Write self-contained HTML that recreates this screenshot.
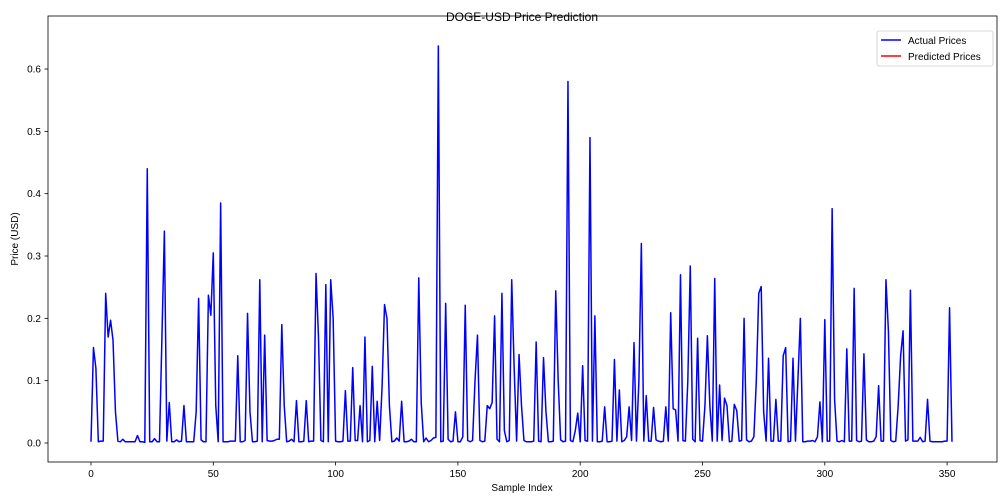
<!DOCTYPE html>
<html><head><meta charset="utf-8"><style>
html,body{margin:0;padding:0;background:#fff;}
svg{display:block;font-family:"Liberation Sans","DejaVu Sans",sans-serif;}
</style></head><body>
<svg id="chart" width="1008" height="504" viewBox="0 0 1008 504" xmlns="http://www.w3.org/2000/svg">
<rect x="0" y="0" width="1008" height="504" fill="#fff"/>
<text x="522" y="21" text-anchor="middle" font-size="12" fill="#000">DOGE-USD Price Prediction</text>
<text x="522" y="491" text-anchor="middle" font-size="10" fill="#000">Sample Index</text>
<text x="18" y="239" text-anchor="middle" font-size="10" fill="#000" transform="rotate(-90 18 239)">Price (USD)</text>
<g id="ticks"></g>
<g id="series"></g>
<rect x="48" y="16" width="949" height="446" fill="none" stroke="#000" stroke-width="0.8"/>
<g>
<rect x="877" y="31" width="116" height="35" rx="2" fill="#fff" stroke="#ccc" stroke-width="0.8"/>
<line x1="881" y1="40" x2="901" y2="40" stroke="#0000ff" stroke-width="1.5"/>
<text x="908" y="44" font-size="10" fill="#000">Actual Prices</text>
<line x1="881" y1="56" x2="901" y2="56" stroke="#ff0000" stroke-width="1.5"/>
<text x="908" y="60" font-size="10" fill="#000">Predicted Prices</text>
</g>
</svg>
<script>
const xTicks = [0, 50, 100, 150, 200, 250, 300, 350];
const yTicks = [0.0, 0.1, 0.2, 0.3, 0.4, 0.5, 0.6];
const actualPrices = [
0.002,0.153,0.12,0.002,0.003,0.003,0.24,0.17,0.197,0.165,0.05,0.003,0.002,0.006,0.002,0.002,0.002,0.002,0.002,0.012,
0.002,0.002,0.001,0.44,0.002,0.002,0.007,0.002,0.002,0.17,0.34,0.003,0.065,0.002,0.002,0.005,0.002,0.003,0.06,0.002,
0.002,0.002,0.002,0.05,0.232,0.005,0.002,0.002,0.237,0.205,0.305,0.06,0.002,0.385,0.002,0.002,0.002,0.003,0.003,0.003,
0.14,0.002,0.002,0.004,0.208,0.05,0.002,0.002,0.003,0.262,0.002,0.173,0.004,0.003,0.003,0.004,0.006,0.006,0.19,0.06,
0.002,0.003,0.006,0.002,0.068,0.002,0.002,0.003,0.068,0.002,0.003,0.003,0.272,0.17,0.004,0.002,0.254,0.002,0.262,0.2,
0.003,0.002,0.002,0.003,0.084,0.003,0.003,0.121,0.004,0.004,0.06,0.002,0.17,0.002,0.004,0.123,0.002,0.067,0.004,0.09,
0.222,0.2,0.06,0.002,0.003,0.008,0.003,0.067,0.002,0.002,0.003,0.006,0.002,0.002,0.265,0.065,0.002,0.008,0.002,0.004,
0.008,0.009,0.637,0.002,0.003,0.224,0.006,0.002,0.003,0.05,0.002,0.002,0.01,0.221,0.004,0.002,0.004,0.1,0.173,0.004,
0.002,0.003,0.06,0.055,0.065,0.204,0.006,0.002,0.24,0.02,0.002,0.004,0.262,0.12,0.003,0.142,0.06,0.004,0.002,0.002,
0.002,0.003,0.162,0.003,0.002,0.137,0.05,0.002,0.002,0.003,0.244,0.1,0.005,0.002,0.003,0.58,0.004,0.002,0.02,0.048,
0.002,0.124,0.004,0.003,0.49,0.003,0.204,0.002,0.002,0.003,0.058,0.002,0.002,0.003,0.134,0.003,0.085,0.002,0.004,0.01,
0.058,0.004,0.161,0.003,0.1,0.32,0.003,0.076,0.003,0.003,0.057,0.005,0.003,0.002,0.003,0.058,0.003,0.209,0.055,0.053,
0.003,0.27,0.004,0.003,0.1,0.284,0.006,0.002,0.168,0.004,0.003,0.06,0.172,0.06,0.003,0.264,0.003,0.093,0.004,0.072,
0.06,0.002,0.003,0.062,0.052,0.003,0.004,0.2,0.005,0.002,0.003,0.01,0.1,0.24,0.251,0.05,0.003,0.136,0.003,0.003,
0.07,0.003,0.003,0.14,0.153,0.002,0.003,0.136,0.003,0.1,0.2,0.002,0.002,0.003,0.003,0.004,0.002,0.01,0.066,0.002,
0.198,0.003,0.003,0.376,0.07,0.003,0.002,0.004,0.002,0.151,0.003,0.003,0.248,0.004,0.002,0.003,0.143,0.005,0.002,0.002,
0.003,0.01,0.092,0.003,0.003,0.262,0.18,0.004,0.002,0.003,0.06,0.14,0.18,0.003,0.005,0.245,0.003,0.003,0.003,0.009,
0.002,0.003,0.07,0.003,0.002,0.002,0.002,0.002,0.002,0.003,0.003,0.217,0.002
];
const predictedPrices = [];

const NS = "http://www.w3.org/2000/svg";
function xScale(v){ return 91 + v * 2.446; }
function yScale(v){ return 443 - v * 623.3; }

const tg = document.getElementById('ticks');
xTicks.forEach(function(t){
  const x = xScale(t);
  const l = document.createElementNS(NS,'line');
  l.setAttribute('x1',x); l.setAttribute('x2',x); l.setAttribute('y1',462); l.setAttribute('y2',465.5);
  l.setAttribute('stroke','#000'); l.setAttribute('stroke-width','0.8');
  
  
  tg.appendChild(l);
  const tx = document.createElementNS(NS,'text');
  tx.setAttribute('x',x); tx.setAttribute('y',477); tx.setAttribute('text-anchor','middle');
  tx.setAttribute('font-size','10'); tx.textContent = t;
  
  
  tg.appendChild(tx);
});
yTicks.forEach(function(t){
  const y = yScale(t);
  const l = document.createElementNS(NS,'line');
  l.setAttribute('x1',44.5); l.setAttribute('x2',48); l.setAttribute('y1',y); l.setAttribute('y2',y);
  l.setAttribute('stroke','#000'); l.setAttribute('stroke-width','0.8');
  
  
  tg.appendChild(l);
  const tx = document.createElementNS(NS,'text');
  tx.setAttribute('x',41); tx.setAttribute('y',y+3.5); tx.setAttribute('text-anchor','end');
  tx.setAttribute('font-size','10'); tx.textContent = t.toFixed(1);
  
  
  tg.appendChild(tx);
});

const sg = document.getElementById('series');
function drawLine(vals, color, name){
  if(!vals.length) return;
  const pts = vals.map(function(v,i){ return xScale(i).toFixed(2)+','+yScale(v).toFixed(2); }).join(' ');
  const pl = document.createElementNS(NS,'polyline');
  pl.setAttribute('points', pts);
  pl.setAttribute('fill','none'); pl.setAttribute('stroke',color);
  pl.setAttribute('stroke-width','1.5'); pl.setAttribute('stroke-linejoin','round');
  
  
  sg.appendChild(pl);
}
drawLine(actualPrices, '#0000ff', 'actual-prices-line');
drawLine(predictedPrices, '#ff0000', 'predicted-prices-line');
</script>
</body></html>
